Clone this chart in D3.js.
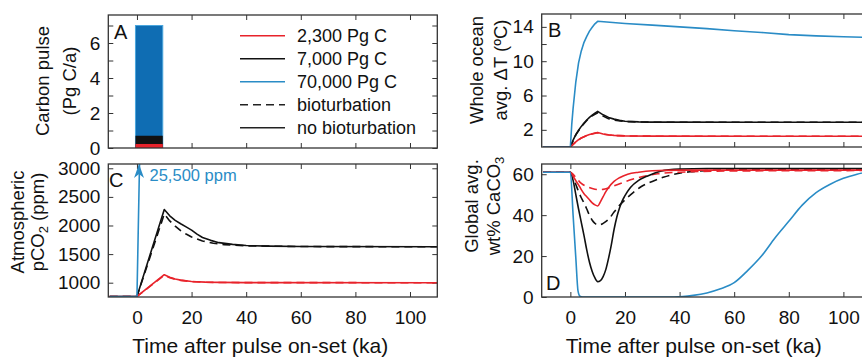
<!DOCTYPE html>
<html>
<head>
<meta charset="utf-8">
<script src="https://cdn.jsdelivr.net/npm/d3@7"></script>
<style>
body { margin: 0; background: #fff; }
text { font-family: "Liberation Sans", Arial, Helvetica, sans-serif; fill: #111; }
</style>
</head>
<body>
<div id="chart"></div>
<script>
// ---- data ----
var timeTicks = [0, 20, 40, 60, 80, 100];
var legendLabels = ["2,300 Pg C", "7,000 Pg C", "70,000 Pg C", "bioturbation", "no bioturbation"];

// A: carbon pulse, constant rate between 0 and 10 ka
var pulseStart = 0, pulseEnd = 10;
var pulseRates = [0.23, 0.7, 7.0];   // red, black, blue

// B: whole ocean average warming (deg C)
var tempRed = [[-10,0],[0,0],[1,0.3],[2,0.6],[3,0.85],[4,1.05],[5,1.2],[6,1.35],[7,1.45],[8,1.55],[9,1.63],[10,1.7],[12,1.52],[14,1.42],[16,1.36],[20,1.3],[30,1.27],[110,1.25]];
var tempRedDash = [[-10,0],[0,0],[2,0.6],[4,1.05],[6,1.33],[8,1.52],[10,1.66],[12,1.5],[14,1.4],[16,1.34],[20,1.29],[30,1.26],[110,1.25]];
var tempBlack = [[-10,0],[0,0],[1,0.8],[2,1.45],[3,1.95],[4,2.4],[5,2.8],[6,3.15],[7,3.45],[8,3.72],[9,3.95],[10,4.15],[12,3.75],[14,3.45],[16,3.25],[18,3.1],[20,3.0],[25,2.93],[30,2.9],[110,2.88]];
var tempBlackDash = [[-10,0],[0,0],[2,1.42],[4,2.35],[6,3.1],[8,3.65],[10,4.0],[12,3.6],[14,3.3],[16,3.12],[20,2.96],[30,2.89],[110,2.88]];
var tempBlue = [[-10,0],[0,0],[0.5,2.6],[1,4.5],[2,7.6],[3,9.8],[4,11.2],[5,12.2],[6,12.9],[7,13.5],[8,13.95],[9,14.35],[10,14.65],[20,14.4],[30,14.2],[40,14.0],[50,13.8],[60,13.55],[70,13.35],[80,13.1],[90,12.95],[100,12.85],[110,12.75]];

// C: atmospheric pCO2 (ppm)
var co2Red = [[-10,760],[0,760],[10,1140],[12,1095],[14,1065],[16,1045],[20,1022],[25,1010],[30,1005],[40,1002],[110,1000]];
var co2RedDash = [[-10,760],[0,760],[10,1130],[12,1088],[14,1060],[16,1040],[20,1020],[25,1008],[30,1004],[40,1001],[110,1000]];
var co2Black = [[-10,760],[0,760],[10,2280],[12,2170],[14,2090],[16,2030],[18,1975],[20,1920],[22,1850],[24,1790],[27,1740],[30,1700],[35,1670],[40,1650],[48,1640],[60,1632],[110,1628]];
var co2BlackDash = [[-10,760],[0,760],[10,2200],[12,2080],[14,1990],[16,1910],[18,1850],[20,1800],[24,1730],[28,1690],[32,1665],[40,1645],[60,1632],[110,1628]];
var co2Blue = [[-10,760],[0,760],[10,25500]];
var co2BluePeak = "25,500 ppm";

// D: global average wt% CaCO3
var caco3Red = [[-10,61],[0,61],[1,59],[2,56.8],[3,54.8],[4,52.5],[5,50.5],[6,49],[7,47.5],[8,46],[9,45],[10,44.5],[11,46.5],[12,49],[13,51.5],[14,53.5],[16,56.5],[18,58.3],[21,60],[25,61],[30,61.7],[40,62],[110,62]];
var caco3RedDash = [[-10,61],[0,61],[2,58.5],[4,55.5],[6,54],[8,53],[10,52.5],[12,52.6],[14,53.3],[16,54.3],[20,56.3],[24,58],[28,59.3],[32,60.2],[40,61],[60,61.6],[110,61.8]];
var caco3Black = [[-10,61],[0,61],[1,57],[2,50],[3,43],[4,36.5],[5,30],[6,23],[7,17],[8,12.5],[9,9.3],[10,7.5],[11,8],[12,10],[13,13.5],[14,19],[15,25.5],[16,33],[17,39],[18,43.5],[19,47],[20,49.5],[22,53.5],[25,57],[28,59],[33,61.5],[40,62.5],[50,62.8],[110,62.8]];
var caco3BlackDash = [[-10,61],[0,61],[1,58.5],[2,55],[3,51.5],[4,48.5],[5,46],[6,43],[7,40],[8,37.5],[9,36],[10,35.2],[11,35.3],[12,36],[14,38],[16,41.5],[18,44.8],[20,47.5],[23,51],[26,54],[30,56.5],[34,58.5],[38,60],[44,61.2],[50,61.8],[60,62.2],[110,62.4]];
var caco3Blue = [[-10,61],[0,61],[1,40],[2,19],[2.8,3],[3.5,0.4],[4.5,0],[38,0],[45,0.8],[50,2],[55,4],[60,7],[65,13],[70,20],[75,29],[80,37],[85,45],[90,51],[95,55],[100,58],[105,60],[110,61.5]];

// ---- layout ----
var width = 862, height = 357;
var pw = 329, ph = 133;
var red = "#e8232b", black = "#111", blue = "#2a8cc6", barBlue = "#0f6db3";
var dash = "8,5";
var tickLen = 5;

var svg = d3.select("#chart").append("svg")
    .attr("width", width)
    .attr("height", height);

var defs = svg.append("defs");

function makePanel(name, left, top, yDomain, yTicks, yFormat, xLabels) {
  var x = d3.scaleLinear().domain([-10.5, 110]).range([left, left + pw]);
  var y = d3.scaleLinear().domain(yDomain).range([top + ph, top]);
  var g = svg.append("g").attr("class", "panel-" + name);

  defs.append("clipPath").attr("id", "clip-" + name)
    .append("rect").attr("x", left).attr("y", top).attr("width", pw).attr("height", ph);

  var axes = g.append("g").attr("class", "axes");
  axes.append("g")
    .attr("transform", "translate(0," + (top + ph) + ")")
    .call(d3.axisBottom(x).tickValues(timeTicks).tickSize(-tickLen).tickPadding(14)
      .tickFormat(xLabels ? d3.format("d") : ""));
  axes.append("g")
    .attr("transform", "translate(0," + top + ")")
    .call(d3.axisTop(x).tickValues(timeTicks).tickSize(-tickLen).tickFormat(""));
  axes.append("g")
    .attr("transform", "translate(" + left + ",0)")
    .call(d3.axisLeft(y).tickValues(yTicks).tickSize(-tickLen).tickPadding(8).tickFormat(yFormat));
  axes.append("g")
    .attr("transform", "translate(" + (left + pw) + ",0)")
    .call(d3.axisRight(y).tickValues(yTicks).tickSize(-tickLen).tickFormat(""));

  axes.selectAll(".domain").remove();
  axes.selectAll("g").attr("font-family", null).attr("font-size", null);
  axes.selectAll(".tick line").attr("stroke", "#333").attr("stroke-width", 1);
  // drop empty labels so no blank text is left behind
  axes.selectAll(".tick text").filter(function() { return this.textContent === ""; }).remove();
  axes.selectAll(".tick text").style("font-size", "19px").attr("fill", "#111");

  var plot = g.append("g").attr("clip-path", "url(#clip-" + name + ")");

  g.append("rect")
    .attr("x", left).attr("y", top)
    .attr("width", pw).attr("height", ph)
    .attr("fill", "none")
    .attr("stroke", "#333")
    .attr("stroke-width", 1.3);

  return {g: g, plot: plot, x: x, y: y, left: left, top: top};
}

function drawLine(p, data, color, dashed) {
  var line = d3.line()
    .x(function(d) { return p.x(d[0]); })
    .y(function(d) { return p.y(d[1]); });
  if (p.smooth) line.curve(d3.curveMonotoneX);
  p.plot.append("path")
    .datum(data)
    .attr("d", line)
    .attr("fill", "none")
    .attr("stroke", color)
    .attr("stroke-width", 1.6)
    .attr("stroke-dasharray", dashed ? dash : null)
    .attr("stroke-linejoin", "round");
}

// rotated two-line axis label; {sub: ".."} parts become subscripts
function yLabel(lines, cx, cy, spacing) {
  lines.forEach(function(parts, i) {
    var t = svg.append("text")
      .attr("transform", "translate(" + (cx + i * spacing) + "," + cy + ") rotate(-90)")
      .attr("text-anchor", "middle")
      .style("font-size", "18.5px");
    var shifted = false;
    parts.forEach(function(p) {
      if (typeof p === "string") {
        var s = t.append("tspan").text(p);
        if (shifted) { s.attr("dy", -4); shifted = false; }
      } else {
        t.append("tspan").text(p.sub).attr("dy", 4).style("font-size", "13px");
        shifted = true;
      }
    });
  });
}

function panelLetter(txt, x, y) {
  svg.append("text").attr("x", x).attr("y", y).text(txt).style("font-size", "20px");
}

// ---- A: carbon pulse ----
var A = makePanel("A", 108.3, 15, [0, 7.6], d3.range(0, 8), function(d) { return d % 2 === 0 ? d : ""; }, false);
var barColors = [red, black, barBlue];
var barOrder = [2, 1, 0];
barOrder.forEach(function(i) {
  A.plot.append("rect")
    .attr("x", A.x(pulseStart) - 1.5)
    .attr("width", A.x(pulseEnd) - A.x(pulseStart))
    .attr("y", A.y(pulseRates[i]))
    .attr("height", A.y(0) - A.y(pulseRates[i]))
    .attr("fill", barColors[i])
    .attr("stroke", i === 2 ? "#4aa6dd" : "none")
    .attr("stroke-width", 1);
});

// legend
var legendColors = [red, black, blue, "#222", "#222"];
var legend = A.g.append("g").attr("class", "legend");
legendLabels.forEach(function(lbl, i) {
  var yy = 35.7 + i * 23;
  legend.append("line")
    .attr("x1", 240).attr("x2", 285)
    .attr("y1", yy).attr("y2", yy)
    .attr("stroke", legendColors[i])
    .attr("stroke-width", 1.6)
    .attr("stroke-dasharray", i === 3 ? dash : null);
  legend.append("text")
    .attr("x", 297).attr("y", yy + 6.3)
    .text(lbl)
    .style("font-size", "18px");
});
panelLetter("A", 114, 38.5);
yLabel([["Carbon pulse"], ["(Pg C/a)"]], 49, 81, 27);

// ---- B: ocean temperature ----
var B = makePanel("B", 541.7, 14, [0, 15.5], [2, 4, 6, 8, 10, 12, 14], function(d) { return (d - 2) % 4 === 0 ? d : ""; }, false);
drawLine(B, tempBlackDash, black, true);
drawLine(B, tempRedDash, red, true);
drawLine(B, tempBlack, black, false);
drawLine(B, tempRed, red, false);
drawLine(B, tempBlue, blue, false);
panelLetter("B", 548, 36.5);
yLabel([["Whole ocean"], ["avg. \u0394T (\u00baC)"]], 483, 70, 24);

// ---- C: atmospheric CO2 ----
var C = makePanel("C", 108.3, 164, [750, 3075], [1000, 1500, 2000, 2500, 3000], d3.format("d"), true);
drawLine(C, co2BlackDash, black, true);
drawLine(C, co2RedDash, red, true);
drawLine(C, co2Black, black, false);
drawLine(C, co2Red, red, false);
drawLine(C, co2Blue, blue, false);
// arrow where the blue curve leaves the panel
var topVal = C.y.domain()[1];
var tCross = co2Blue[1][0] + (topVal - co2Blue[1][1]) / (co2Blue[2][1] - co2Blue[1][1]) * (co2Blue[2][0] - co2Blue[1][0]);
var ax = C.x(tCross) - 0.5, ay = C.y(topVal);
C.g.append("path")
  .attr("d", "M" + ax + "," + ay + " L" + (ax - 5) + "," + (ay + 14) + " L" + ax + "," + (ay + 10) + " L" + (ax + 5) + "," + (ay + 14) + " Z")
  .attr("fill", blue);
C.g.append("text")
  .attr("x", C.x(tCross) + 10).attr("y", ay + 17)
  .text(co2BluePeak)
  .style("font-size", "16.5px")
  .style("fill", blue);
panelLetter("C", 109, 187);
yLabel([["Atmospheric"], ["pCO", {sub: "2"}, " (ppm)"]], 24, 222, 20);

// ---- D: sediment CaCO3 ----
var D = makePanel("D", 541.7, 164, [0, 65], [0, 20, 40, 60], d3.format("d"), true);
D.smooth = true;
drawLine(D, caco3BlackDash, black, true);
drawLine(D, caco3RedDash, red, true);
drawLine(D, caco3Black, black, false);
drawLine(D, caco3Red, red, false);
drawLine(D, caco3Blue, blue, false);
panelLetter("D", 546, 290);
yLabel([["Global avg."], ["wt% CaCO", {sub: "3"}]], 478, 206, 22);

// ---- shared x titles ----
[C, D].forEach(function(p) {
  svg.append("text")
    .attr("x", p.left + 152).attr("y", 353)
    .attr("text-anchor", "middle")
    .text("Time after pulse on-set (ka)")
    .style("font-size", "21px");
});
</script>
</body>
</html>
